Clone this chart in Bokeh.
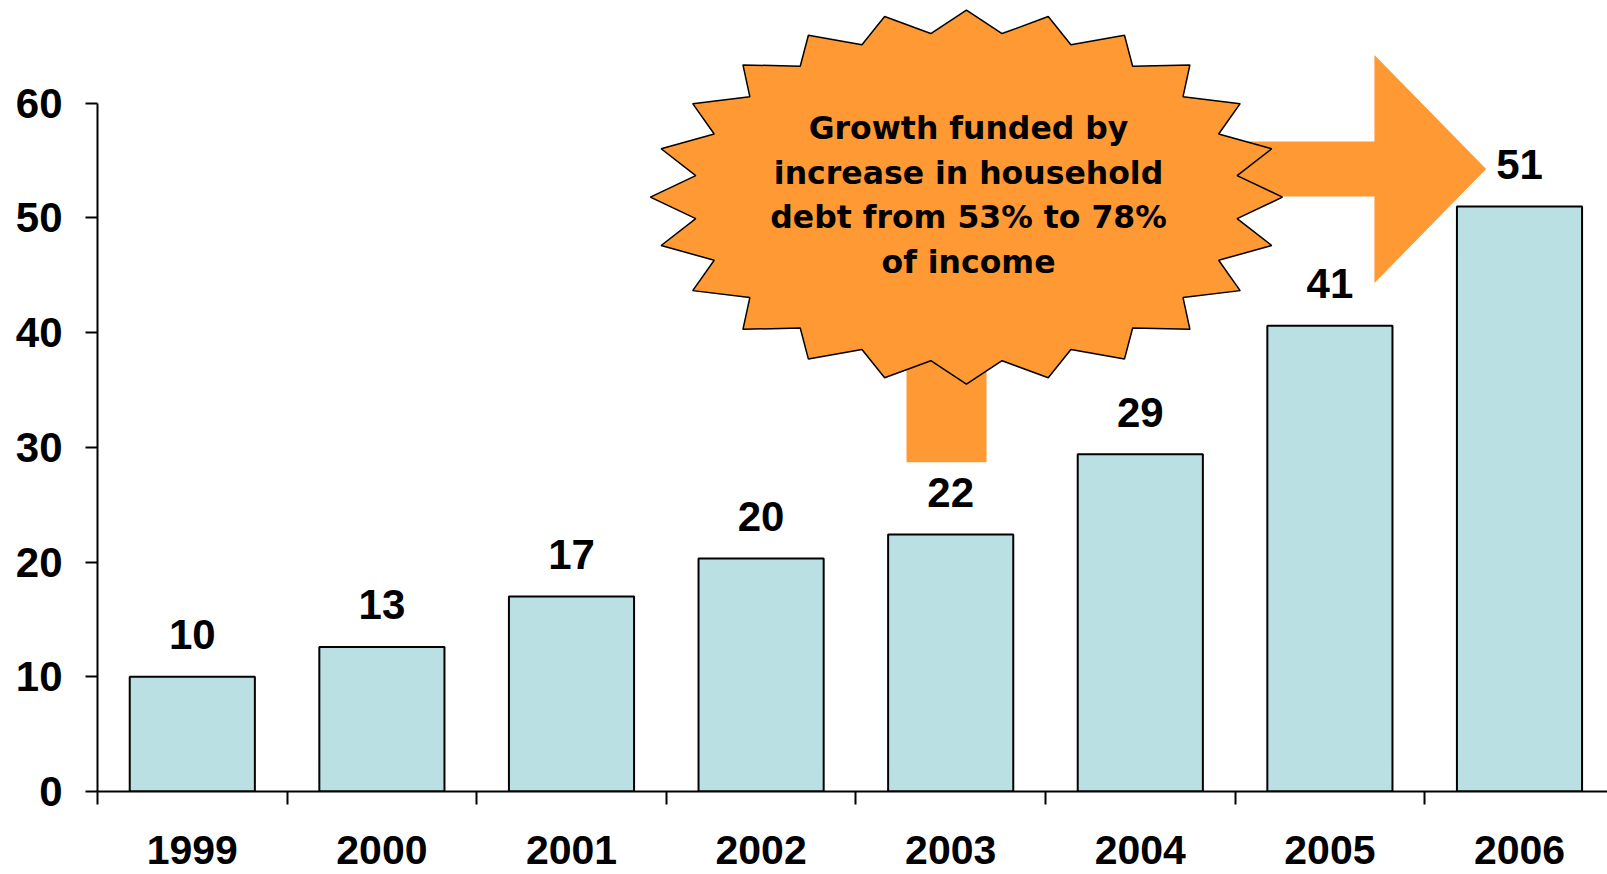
import numpy as np
from bokeh.plotting import figure
from bokeh.models import Range1d, FixedTicker
from bokeh.core.properties import value
from bokeh.embed import file_html
from bokeh.resources import INLINE

# ---- data ----
years = ["1999", "2000", "2001", "2002", "2003", "2004", "2005", "2006"]
values = [10.0, 12.6, 17.0, 20.3, 22.4, 29.4, 40.6, 51.0]
value_labels = ["10", "13", "17", "20", "22", "29", "41", "51"]
y_ticks = [0, 10, 20, 30, 40, 50, 60]
note_lines = ["Growth funded by", "increase in household", "debt from 53% to 78%", "of income"]

x = list(range(len(years)))
boundaries = [i - 0.5 for i in range(len(years) + 1)]

FONT = "Liberation Sans"
ORANGE = "#FF9933"
BAR = "#BBE0E3"

p = figure(width=1607, height=874, output_backend="svg", toolbar_location=None,
           x_range=Range1d(-0.5, -0.5 + 1510 / 189.6), y_range=Range1d(0, 68.95),
           min_border_left=97, min_border_right=0, min_border_top=0, min_border_bottom=83)
p.outline_line_color = None
p.xgrid.visible = False
p.ygrid.visible = False
p.background_fill_color = "white"
p.border_fill_color = "white"

# x axis: labels at centres, tick marks at category boundaries
xa = p.xaxis[0]
xa.ticker = FixedTicker(ticks=x, minor_ticks=boundaries)
xa.major_label_overrides = {i: y for i, y in enumerate(years)}
xa.major_tick_out = 0
xa.major_tick_in = 0
xa.minor_tick_out = 13
xa.minor_tick_in = 0
xa.minor_tick_line_color = "black"
xa.minor_tick_line_width = 2
xa.axis_line_color = "black"
xa.axis_line_width = 2
xa.major_label_text_font = FONT
xa.major_label_text_font_style = "bold"
xa.major_label_text_font_size = "41px"
xa.major_label_text_color = "black"
xa.major_label_standoff = 31

ya = p.yaxis[0]
ya.ticker = FixedTicker(ticks=y_ticks)
ya.bounds = (0, 60)
ya.major_tick_out = 12
ya.major_tick_in = 0
ya.minor_tick_out = 0
ya.minor_tick_in = 0
ya.major_tick_line_color = "black"
ya.major_tick_line_width = 2
ya.axis_line_color = "black"
ya.axis_line_width = 2
ya.major_label_text_font = FONT
ya.major_label_text_font_style = "bold"
ya.major_label_text_font_size = "42px"
ya.major_label_text_color = "black"
ya.major_label_standoff = 23

# bars
p.vbar(x=x, top=values, width=0.66, bottom=0, fill_color=BAR, line_color="black", line_width=2)

# value labels
p.text(x=x, y=values, text=value_labels, y_offset=-42, text_align="center",
       text_baseline="alphabetic", text_font=value(FONT), text_font_style="bold",
       text_font_size="42px", text_color="black")

# ---- callout shapes ----
cx, cy = 4.083, 51.81
# arrow to the right
shaft_top, shaft_bot = 56.67, 51.87
head_x, head_top, head_bot, tip_x, tip_y = 6.235, 64.19, 44.32, 6.824, 54.27
p.patch([cx, head_x, head_x, tip_x, head_x, head_x, cx],
        [shaft_top, shaft_top, head_top, tip_y, head_bot, shaft_bot, shaft_bot],
        fill_color=ORANGE, line_color=None)
# stem down
p.quad(left=[3.767], right=[4.189], bottom=[28.71], top=[cy], fill_color=ORANGE, line_color=None)

# starburst
n = 24
k = np.arange(2 * n)
theta = np.pi / 2 - k * np.pi / n
ax = np.where(k % 2 == 0, 1.667, 1.440)
by = np.where(k % 2 == 0, 16.30, 14.38)
sx = cx + ax * np.cos(theta)
sy = cy + by * np.sin(theta)
p.patch(list(sx), list(sy), fill_color=ORANGE, line_color="black", line_width=1.5)

# callout text
line_y = [57.80, 53.93, 50.05, 46.13]
p.text(x=[4.094] * 4, y=line_y, text=note_lines, text_align="center", text_baseline="alphabetic",
       text_font=value("DejaVu Sans"), text_font_style="bold", text_font_size="31.5px",
       text_color="black")

open("out.html", "w").write(file_html(p, INLINE))
